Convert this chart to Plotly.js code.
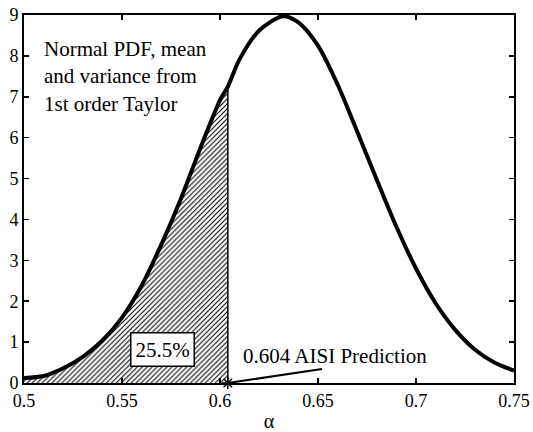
<!DOCTYPE html>
<html>
<head>
<meta charset="utf-8">
<script src="https://cdn.plot.ly/plotly-3.0.1.min.js"></script>
<style>html,body{margin:0;padding:0;background:#fff;}#chart{width:533px;height:432px;}</style>
</head>
<body>
<div id="chart"></div>
<script>
// Values
const alphaValues = [0.50, 0.51, 0.52, 0.53, 0.54, 0.55, 0.56, 0.57, 0.58, 0.59, 0.60, 0.604, 0.61, 0.62, 0.632, 0.64, 0.65, 0.66, 0.67, 0.68, 0.69, 0.70, 0.71, 0.72, 0.73, 0.74, 0.75];
const pdfValues   = [0.12, 0.17, 0.36, 0.64, 1.04, 1.6, 2.38, 3.38, 4.5, 5.75, 6.92, 7.25, 7.92, 8.62, 8.97, 8.82, 8.25, 7.3, 6.15, 4.97, 3.82, 2.8, 1.95, 1.3, 0.82, 0.5, 0.3];
const aisiPrediction = 0.604;
const areaLabel = "25.5%";
const predictionLabel = "0.604 AISI Prediction";
const noteLabel = "Normal PDF, mean<br>and variance from<br>1st order Taylor";
const xTicks = [0.5, 0.55, 0.6, 0.65, 0.7, 0.75];
const xTickText = ["0.5", "0.55", "0.6", "0.65", "0.7", "0.75"];
const yTicks = [0, 1, 2, 3, 4, 5, 6, 7, 8, 9];

const fillX = [], fillY = [];
alphaValues.forEach((a, i) => { if (a <= aisiPrediction) { fillX.push(a); fillY.push(pdfValues[i]); } });
const aisiY = pdfValues[alphaValues.indexOf(aisiPrediction)];

const FONT = "'Liberation Serif', 'Times New Roman', Times, serif";

const traces = [
  {
    x: fillX, y: fillY, type: 'scatter', mode: 'lines',
    line: {width: 0, color: 'black', shape: 'spline', smoothing: 0.8},
    fill: 'tozeroy', fillcolor: 'rgba(0,0,0,0)',
    fillpattern: {shape: '/', size: 3.5, solidity: 0.3, fgcolor: 'black', bgcolor: 'white'},
    hoverinfo: 'skip'
  },
  {
    x: [aisiPrediction, aisiPrediction], y: [0, aisiY], type: 'scatter', mode: 'lines',
    line: {width: 1.5, color: 'black'}, hoverinfo: 'skip'
  },
  {
    x: alphaValues, y: pdfValues, type: 'scatter', mode: 'lines',
    line: {width: 4, color: 'black', shape: 'spline', smoothing: 0.8}
  },
  {
    x: [aisiPrediction], y: [0], type: 'scatter', mode: 'markers',
    marker: {symbol: 'asterisk-open', size: 10, line: {width: 1.5, color: 'black'}, color: 'black'},
    cliponaxis: false
  }
];

const axisCommon = {
  showline: true, linecolor: 'black', linewidth: 2, mirror: 'ticks',
  ticks: 'inside', ticklen: 5, tickwidth: 1.5, tickcolor: 'black',
  showgrid: false, zeroline: false,
  tickfont: {family: FONT, size: 18, color: 'black'}
};

const layout = {
  width: 533, height: 432,
  margin: {l: 24, r: 19, t: 15, b: 49},
  paper_bgcolor: 'white', plot_bgcolor: 'white',
  showlegend: false,
  font: {family: FONT, color: 'black'},
  xaxis: Object.assign({}, axisCommon, {
    range: [0.5, 0.75], tickvals: xTicks, ticktext: xTickText,
    title: {text: 'α', font: {family: FONT, size: 20, color: 'black'}, standoff: 4}
  }),
  yaxis: Object.assign({}, axisCommon, {
    range: [0, 9], tickvals: yTicks
  }),
  shapes: [
    {type: 'line', xref: 'x', yref: 'y', x0: aisiPrediction, y0: 0, x1: 0.652, y1: 0.34,
     line: {color: 'black', width: 2}}
  ],
  annotations: [
    {x: 0.5707, y: 0.83, xref: 'x', yref: 'y', text: areaLabel, showarrow: false,
     font: {family: FONT, size: 21, color: 'black'}, bgcolor: 'white',
     bordercolor: 'black', borderwidth: 1.5, borderpad: 4},
    {x: 0.6587, y: 0.66, xref: 'x', yref: 'y', text: predictionLabel, showarrow: false,
     font: {family: FONT, size: 21, color: 'black'}},
    {x: 0.509, y: 8.52, xref: 'x', yref: 'y', xanchor: 'left', yanchor: 'top', align: 'left',
     text: noteLabel, showarrow: false,
     font: {family: FONT, size: 21, color: 'black'}}
  ]
};

Plotly.newPlot('chart', traces, layout, {staticPlot: true, displayModeBar: false});
</script>
</body>
</html>
